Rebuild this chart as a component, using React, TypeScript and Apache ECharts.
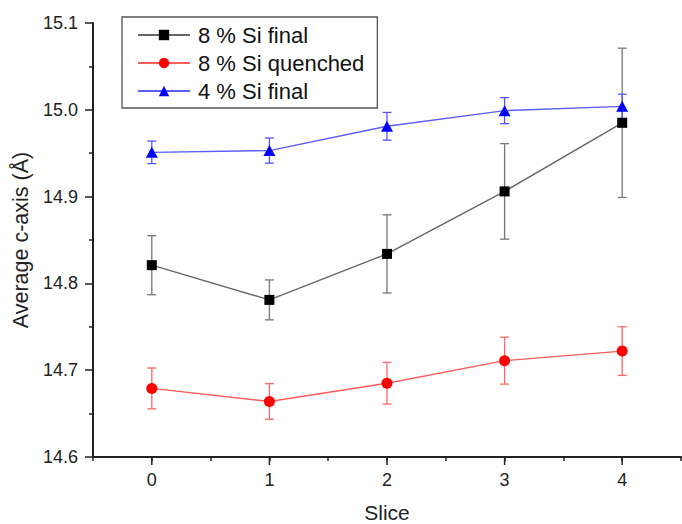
import React, { useEffect, useRef } from "react";
import * as echarts from "echarts";

// Slice positions along the sample
const slices = [0, 1, 2, 3, 4];

// Average c-axis (Å) and its uncertainty per slice
const si8Final = [14.821, 14.781, 14.834, 14.906, 14.985];
const si8FinalErr = [0.034, 0.023, 0.045, 0.055, 0.086];

const si8Quenched = [14.679, 14.664, 14.685, 14.711, 14.722];
const si8QuenchedErr = [0.0235, 0.0205, 0.024, 0.027, 0.028];

const si4Final = [14.951, 14.953, 14.981, 14.999, 15.004];
const si4FinalErr = [0.013, 0.0145, 0.016, 0.015, 0.014];

const seriesNames = ["8 % Si final", "8 % Si quenched", "4 % Si final"];

const FONT = "Liberation Sans, Arial, sans-serif";
const Y_MIN = 14.6;

function errorBarSeries(values: number[], errs: number[], color: string) {
  return {
    type: "custom",
    z: 2,
    silent: true,
    data: slices.map((x, i) => [x, values[i] - errs[i], values[i] + errs[i]]),
    encode: { x: 0, y: [1, 2] },
    renderItem: (_p: any, api: any) => {
      const x = api.value(0);
      const top = api.coord([x, api.value(2)]);
      const bot = api.coord([x, api.value(1)]);
      const hw = 4.5;
      const style = { stroke: color, lineWidth: 1.3 };
      return {
        type: "group",
        children: [
          { type: "line", shape: { x1: top[0], y1: top[1], x2: bot[0], y2: bot[1] }, style },
          { type: "line", shape: { x1: top[0] - hw, y1: top[1], x2: top[0] + hw, y2: top[1] }, style },
          { type: "line", shape: { x1: bot[0] - hw, y1: bot[1], x2: bot[0] + hw, y2: bot[1] }, style },
        ],
      };
    },
  };
}

export default function App() {
  const ref = useRef<HTMLDivElement>(null);

  useEffect(() => {
    document.body.style.margin = "0";
    if (!ref.current) return;
    const chart = echarts.init(ref.current, undefined, { renderer: "svg" });

    const lineSeries = (name: string, values: number[], lineColor: string, markColor: string, symbol: string, size: any) => ({
      name,
      type: "line",
      z: 3,
      data: slices.map((x, i) => [x, values[i]]),
      symbol,
      symbolSize: size,
      showAllSymbol: true,
      lineStyle: { color: lineColor, width: 1.4 },
      itemStyle: { color: markColor },
      emphasis: { disabled: true },
    });

    chart.setOption({
      animation: false,
      backgroundColor: "#ffffff",
      grid: { left: 93, right: 1, top: 23, bottom: 67, outerBoundsMode: "none", containLabel: false },
      legend: {
        orient: "vertical",
        left: 122,
        top: 17,
        data: seriesNames,
        backgroundColor: "#ffffff",
        borderColor: "#555",
        borderWidth: 1.3,
        padding: [7, 13, 6, 15],
        itemGap: 6,
        itemWidth: 52,
        itemHeight: 13,
        textStyle: { fontSize: 22, color: "#111", fontFamily: FONT, lineHeight: 22, padding: [0, 0, 0, 3] },
      },
      xAxis: {
        type: "value",
        min: -0.5,
        max: 4.5,
        interval: 0.5,
        name: "Slice",
        nameLocation: "middle",
        nameGap: 45,
        nameTextStyle: { fontSize: 21, lineHeight: 21, color: "#222", fontFamily: FONT },
        axisLine: { show: true, onZero: false, lineStyle: { color: "#222", width: 2 } },
        axisTick: { show: true, length: 4, lineStyle: { color: "#222", width: 1.5 } },
        axisLabel: {
          fontSize: 18,
          color: "#222",
          fontFamily: FONT,
          margin: 14,
          formatter: (v: number) => (Number.isInteger(v) ? String(v) : ""),
        },
        splitLine: { show: false },
      },
      yAxis: {
        type: "value",
        min: 14.6,
        max: 15.1,
        interval: 0.1,
        name: "Average c-axis (Å)",
        nameLocation: "middle",
        nameGap: 56,
        nameTextStyle: { fontSize: 21.5, color: "#222", fontFamily: FONT },
        axisLine: { show: true, onZero: false, lineStyle: { color: "#222", width: 2 } },
        axisTick: { show: true, length: 8, lineStyle: { color: "#222", width: 1.5 } },
        minorTick: { show: true, splitNumber: 2, length: 4, lineStyle: { color: "#222", width: 1.5 } },
        axisLabel: {
          fontSize: 18,
          color: "#222",
          fontFamily: FONT,
          margin: 15,
          formatter: (v: number) => v.toFixed(1),
        },
        splitLine: { show: false },
      },
      series: [
        errorBarSeries(si8Final, si8FinalErr, "#777777"),
        errorBarSeries(si8Quenched, si8QuenchedErr, "#ff6666"),
        errorBarSeries(si4Final, si4FinalErr, "#5555ff"),
        lineSeries(seriesNames[0], si8Final, "#666666", "#000000", "rect", 10),
        lineSeries(seriesNames[1], si8Quenched, "#ff5c5c", "#ff0000", "circle", 11),
        lineSeries(seriesNames[2], si4Final, "#5c5cff", "#0000ff", "triangle", [12, 11]),
        {
          // longer ticks at the integer slices
          type: "custom",
          silent: true,
          z: 4,
          data: slices.map((x) => [x, Y_MIN]),
          encode: { x: 0, y: 1 },
          renderItem: (_p: any, api: any) => {
            const p = api.coord([api.value(0), api.value(1)]);
            return {
              type: "line",
              shape: { x1: p[0], y1: p[1], x2: p[0], y2: p[1] + 8 },
              style: { stroke: "#222", lineWidth: 1.5 },
            };
          },
        },
      ],
    });

    return () => chart.dispose();
  }, []);

  return <div ref={ref} style={{ width: 682, height: 524 }} />;
}
